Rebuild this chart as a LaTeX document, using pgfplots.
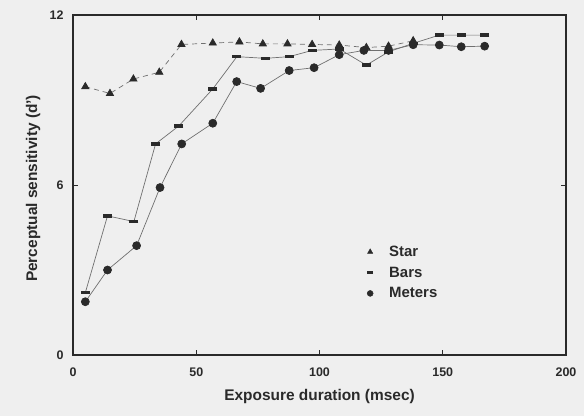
\documentclass[border=0pt]{standalone}
\usepackage{fontspec}
\setmainfont{Liberation Sans}
\usepackage{pgfplots}
\pgfplotsset{compat=1.18}
\definecolor{bg}{HTML}{EFEFEF}
\definecolor{ink}{HTML}{2A2A2A}
\definecolor{ln}{HTML}{707070}
\begin{document}
\begin{tikzpicture}[x=1bp,y=1bp]
\fill[bg] (0,0) rectangle (584,416);
\useasboundingbox (0,0) rectangle (584,416);
\begin{axis}[
  at={(73bp,61bp)}, anchor=south west,
  scale only axis, width=493bp, height=340bp,
  xmin=0, xmax=200, ymin=0, ymax=12,
  xtick={0,50,100,150,200}, ytick={0,6,12},
  axis line style={ink, line width=1.3bp},
  tick style={ink, line width=0.9bp},
  major tick length=5bp,
  /pgf/number format/assume math mode=true,
  tick label style={font=\fontsize{12.5}{14}\selectfont\bfseries, text=ink},
  xticklabel style={yshift=-9bp},
  yticklabel style={xshift=-6bp},
  xlabel={Exposure duration (msec)},
  ylabel={Perceptual sensitivity (d')},
  label style={font=\fontsize{15.5}{18}\selectfont\bfseries, text=ink},
  xlabel style={at={(axis description cs:0.5,-0.123)}, anchor=center},
  ylabel style={at={(axis description cs:-0.081,0.49)}, anchor=center, rotate=0},
  legend style={at={(axis cs:114.8,4.0)}, anchor=north west, draw=none, fill=none,
    font=\fontsize{15}{18}\selectfont\bfseries, text=ink, row sep=5bp},
  legend cell align=left,
  legend image code/.code={\path[draw=none,fill=none] (0bp,0bp) (28bp,0bp); \draw[#1] plot coordinates {(11bp,0bp)};},
]
\addplot[ln, dash pattern=on 5bp off 4bp, line width=0.7bp, mark=triangle*, mark size=4.2bp,
  mark options={solid, fill=ink, draw=ink}, forget plot] coordinates {
  (5,9.47) (15,9.23) (24.5,9.74) (35,9.98) (44,10.96) (56.7,11.01) (67.5,11.05)
  (77,10.98) (87,10.98) (97,10.96) (108,10.94) (119,10.85) (128,10.9) (138,11.09)
};
\addplot[ln, line width=0.7bp, mark=-, mark size=4.5bp,
  mark options={solid, draw=ink, line width=3.6bp}, forget plot] coordinates {
  (5,2.2) (14,4.91) (24.7,4.71) (33.5,7.45) (43,8.09) (56.7,9.39) (66.5,10.53)
  (78,10.47) (87.7,10.53) (97,10.75) (108,10.8) (119,10.23) (128,10.7) (138,11.0)
  (148.6,11.29) (157.5,11.29) (167,11.29)
};
\addplot[ln, line width=0.7bp, mark=*, mark size=4bp,
  mark options={solid, fill=ink, draw=ink}, forget plot] coordinates {
  (5,1.88) (14,3.0) (25.8,3.86) (35.3,5.91) (44.1,7.45) (56.7,8.18) (66.4,9.65)
  (76.1,9.41) (87.7,10.04) (97.8,10.14) (108,10.6) (118,10.75) (128,10.75) (138,10.95)
  (148.6,10.94) (157.5,10.88) (167,10.9)
};
\addlegendimage{only marks, mark=triangle*, mark size=3bp, mark options={fill=ink, draw=ink}}
\addlegendentry{Star}
\addlegendimage{only marks, mark=-, mark size=3bp, mark options={draw=ink, line width=2.6bp}}
\addlegendentry{Bars}
\addlegendimage{only marks, mark=*, mark size=3bp, mark options={fill=ink, draw=ink}}
\addlegendentry{Meters}
\end{axis}
\end{tikzpicture}
\end{document}
